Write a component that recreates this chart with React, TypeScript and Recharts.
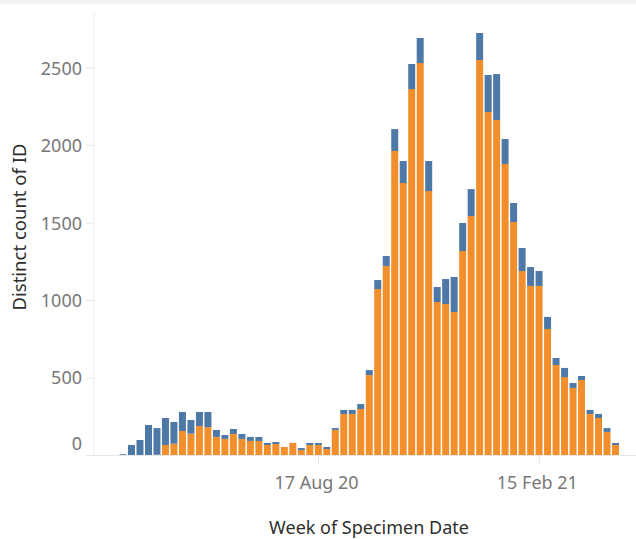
import React from 'react';
import { BarChart, Bar, XAxis, YAxis, Label } from 'recharts';

// weekly buckets, Monday starts
const WEEKS = [
  '9 Mar 20', '16 Mar 20', '23 Mar 20', '30 Mar 20', '6 Apr 20', '13 Apr 20', '20 Apr 20', '27 Apr 20',
  '4 May 20', '11 May 20', '18 May 20', '25 May 20', '1 Jun 20', '8 Jun 20', '15 Jun 20', '22 Jun 20',
  '29 Jun 20', '6 Jul 20', '13 Jul 20', '20 Jul 20', '27 Jul 20', '3 Aug 20', '10 Aug 20', '17 Aug 20',
  '24 Aug 20', '31 Aug 20', '7 Sep 20', '14 Sep 20', '21 Sep 20', '28 Sep 20', '5 Oct 20', '12 Oct 20',
  '19 Oct 20', '26 Oct 20', '2 Nov 20', '9 Nov 20', '16 Nov 20', '23 Nov 20', '30 Nov 20', '7 Dec 20',
  '14 Dec 20', '21 Dec 20', '28 Dec 20', '4 Jan 21', '11 Jan 21', '18 Jan 21', '25 Jan 21', '1 Feb 21',
  '8 Feb 21', '15 Feb 21', '22 Feb 21', '1 Mar 21', '8 Mar 21', '15 Mar 21', '22 Mar 21', '29 Mar 21',
  '5 Apr 21', '12 Apr 21', '19 Apr 21',
];

// lower (orange) segment
const ORANGE = [
  0, 0, 0, 0, 5, 68, 76, 158, 141, 190, 183, 120, 107, 139, 107, 94,
  94, 68, 74, 55, 81, 35, 68, 68, 42, 165, 268, 268, 300, 519, 1074, 1223,
  1965, 1758, 2364, 2532, 1706, 990, 977, 926, 1319, 1545, 2552, 2216, 2165, 1881,
  1506, 1190, 1094, 1094, 816, 584, 506, 436, 487, 268, 242, 152, 68,
];

// upper (blue) segment
const BLUE = [
  8, 68, 100, 197, 172, 174, 140, 123, 88, 91, 98, 45, 25, 32, 32, 26,
  26, 13, 13, 0, 0, 13, 13, 13, 13, 12, 26, 26, 32, 32, 58, 64,
  141, 142, 162, 162, 194, 97, 162, 226, 181, 174, 174, 239, 296, 161,
  123, 149, 122, 96, 78, 45, 59, 32, 26, 26, 26, 25, 13,
];

const Y_TICKS = [0, 500, 1000, 1500, 2000, 2500];
const X_LABELS = ['17 Aug 20', '15 Feb 21'];

const data = WEEKS.map((week, i) => ({ week, orange: ORANGE[i], blue: BLUE[i] }));

const FONT = '"Noto Sans", sans-serif';

function XTick({ x, y, payload }: any) {
  if (!X_LABELS.includes(payload.value)) return <g />;
  return (
    <g>
      <line x1={x} x2={x} y1={y - 8} y2={y} stroke="#e6e6e6" />
      <text x={x - 2} y={y + 25} textAnchor="middle" fontSize={18} fontFamily={FONT} fill="#777">
        {payload.value}
      </text>
    </g>
  );
}

function YTick({ x, y, payload }: any) {
  // tableau lifts the bottom label off the baseline
  const ty = payload.value === 0 ? y - 12 : y;
  return (
    <text x={x} y={ty} dy="0.36em" textAnchor="end" fontSize={18} fontFamily={FONT} fill="#777">
      {payload.value}
    </text>
  );
}

export default function App() {
  return (
    <div style={{ position: 'absolute', left: 0, top: 0, width: 636, height: 539, background: '#fff' }}>
      <div style={{ position: 'absolute', left: 0, top: 0, width: 636, height: 4, background: '#f3f3f3' }} />
      <BarChart
        width={636}
        height={539}
        data={data}
        margin={{ top: 11, right: 0, bottom: 0, left: 0 }}
        barCategoryGap={0.5}
      >
        <XAxis
          dataKey="week"
          interval={0}
          height={83.5}
          padding={{ left: 25, right: 16 }}
          axisLine={{ stroke: '#e8e8e8' }}
          tickLine={false}
          tickSize={8}
          tickMargin={0}
          tick={<XTick />}
        >
          <Label
            content={() => (
              <text x={369} y={534} textAnchor="middle" fontSize={18} fontFamily={FONT} fill="#2e2e2e">
                Week of Specimen Date
              </text>
            )}
          />
        </XAxis>
        <YAxis
          type="number"
          domain={[0, 2868]}
          ticks={Y_TICKS}
          width={94}
          axisLine={{ stroke: '#efefef' }}
          tickLine={{ stroke: '#e6e6e6' }}
          tickSize={8}
          tickMargin={4}
          tick={<YTick />}
        >
          <Label
            content={() => (
              <text
                x={18}
                y={227}
                transform="rotate(-90 18 227)"
                textAnchor="middle"
                dominantBaseline="central"
                fontSize={18.5}
                fontFamily={FONT}
                fill="#2e2e2e"
              >
                Distinct count of ID
              </text>
            )}
          />
        </YAxis>
        <Bar dataKey="orange" stackId="a" fill="#F28E2B" isAnimationActive={false} />
        <Bar dataKey="blue" stackId="a" fill="#4E79A7" isAnimationActive={false} />
      </BarChart>
    </div>
  );
}
